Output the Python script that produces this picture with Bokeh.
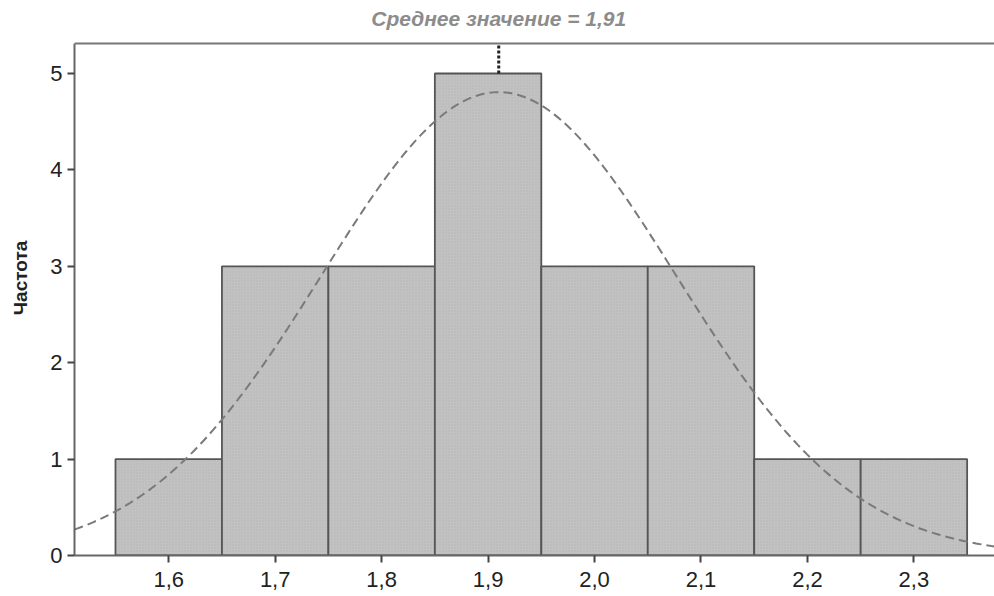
import numpy as np
from bokeh.plotting import figure
from bokeh.models import Range1d, FixedTicker, Span, ColumnDataSource
from bokeh.core.properties import value
from bokeh.embed import file_html
from bokeh.resources import INLINE

# Histogram data (bin edges and counts)
bin_left = [1.55, 1.65, 1.75, 1.85, 1.95, 2.05, 2.15, 2.25]
bin_right = [1.65, 1.75, 1.85, 1.95, 2.05, 2.15, 2.25, 2.35]
counts = [1, 3, 3, 5, 3, 3, 1, 1]

# Fitted normal curve parameters
MEAN = 1.91
SD = 0.166
N = 20
BIN_WIDTH = 0.1

x_ticks = [1.6, 1.7, 1.8, 1.9, 2.0, 2.1, 2.2, 2.3]
x_tick_labels = ["1,6", "1,7", "1,8", "1,9", "2,0", "2,1", "2,2", "2,3"]
y_ticks = [0, 1, 2, 3, 4, 5]

title_text = "Среднее значение = 1,91"
y_label = "Частота"

FRAME_TOP = 5.31
X0, X1 = 1.5115, 2.3757

p = figure(width=994, height=596, output_backend="svg", toolbar_location=None,
           x_range=Range1d(X0, X1), y_range=Range1d(0, 5.757),
           min_border_left=74, min_border_right=0, min_border_top=0, min_border_bottom=41)
p.outline_line_color = None
p.xgrid.visible = False
p.ygrid.visible = False
p.background_fill_color = "white"
p.border_fill_color = "white"

src = ColumnDataSource(dict(left=bin_left, right=bin_right, top=counts))
p.quad(left="left", right="right", bottom=0, top="top", source=src,
       fill_color="#c2c2c2", line_color="#555555", line_width=1.8,
       hatch_pattern="dot", hatch_color="#a8a8a8", hatch_scale=3, hatch_alpha=0.6)

xs = np.linspace(X0, X1, 300)
ys = N * BIN_WIDTH / (SD * np.sqrt(2 * np.pi)) * np.exp(-0.5 * ((xs - MEAN) / SD) ** 2)
p.line(xs, ys, line_color="#7a7a7a", line_width=2, line_dash="9 5")

# dotted mean marker
p.segment(x0=[MEAN], y0=[max(counts)], x1=[MEAN], y1=[FRAME_TOP],
          line_color="#222222", line_width=3, line_dash="3 2")

# top frame line
p.add_layout(Span(location=FRAME_TOP, dimension="width", line_color="#777777", line_width=2))

# title centered on mean
p.text(x=[MEAN], y=[5.57], text=[title_text], text_align="center", text_baseline="middle",
       text_font=value("Liberation Sans"), text_font_style="bold italic",
       text_font_size="21px", text_color="#8c8c8c")

for ax in (p.xaxis[0], p.yaxis[0]):
    ax.axis_line_color = "#666666"
    ax.axis_line_width = 2
    ax.major_tick_line_color = "#444444"
    ax.major_tick_line_width = 2
    ax.major_tick_out = 7
    ax.major_tick_in = 0
    ax.minor_tick_line_color = None
    ax.major_label_text_font = "Liberation Sans"
    ax.major_label_text_font_size = "22px"
    ax.major_label_text_color = "#222222"

p.xaxis.ticker = FixedTicker(ticks=x_ticks)
p.xaxis.major_label_overrides = {t: l for t, l in zip(x_ticks, x_tick_labels)}
p.xaxis.major_label_standoff = 9

p.yaxis.ticker = FixedTicker(ticks=y_ticks)
p.yaxis.bounds = (0, FRAME_TOP)
p.yaxis.major_label_standoff = 5
p.yaxis.axis_label = y_label
p.yaxis.axis_label_text_font = "Liberation Sans"
p.yaxis.axis_label_text_font_style = "bold"
p.yaxis.axis_label_text_font_size = "19px"
p.yaxis.axis_label_text_color = "#222222"
p.yaxis.axis_label_standoff = 16

open("out.html", "w").write(file_html(p, INLINE))
